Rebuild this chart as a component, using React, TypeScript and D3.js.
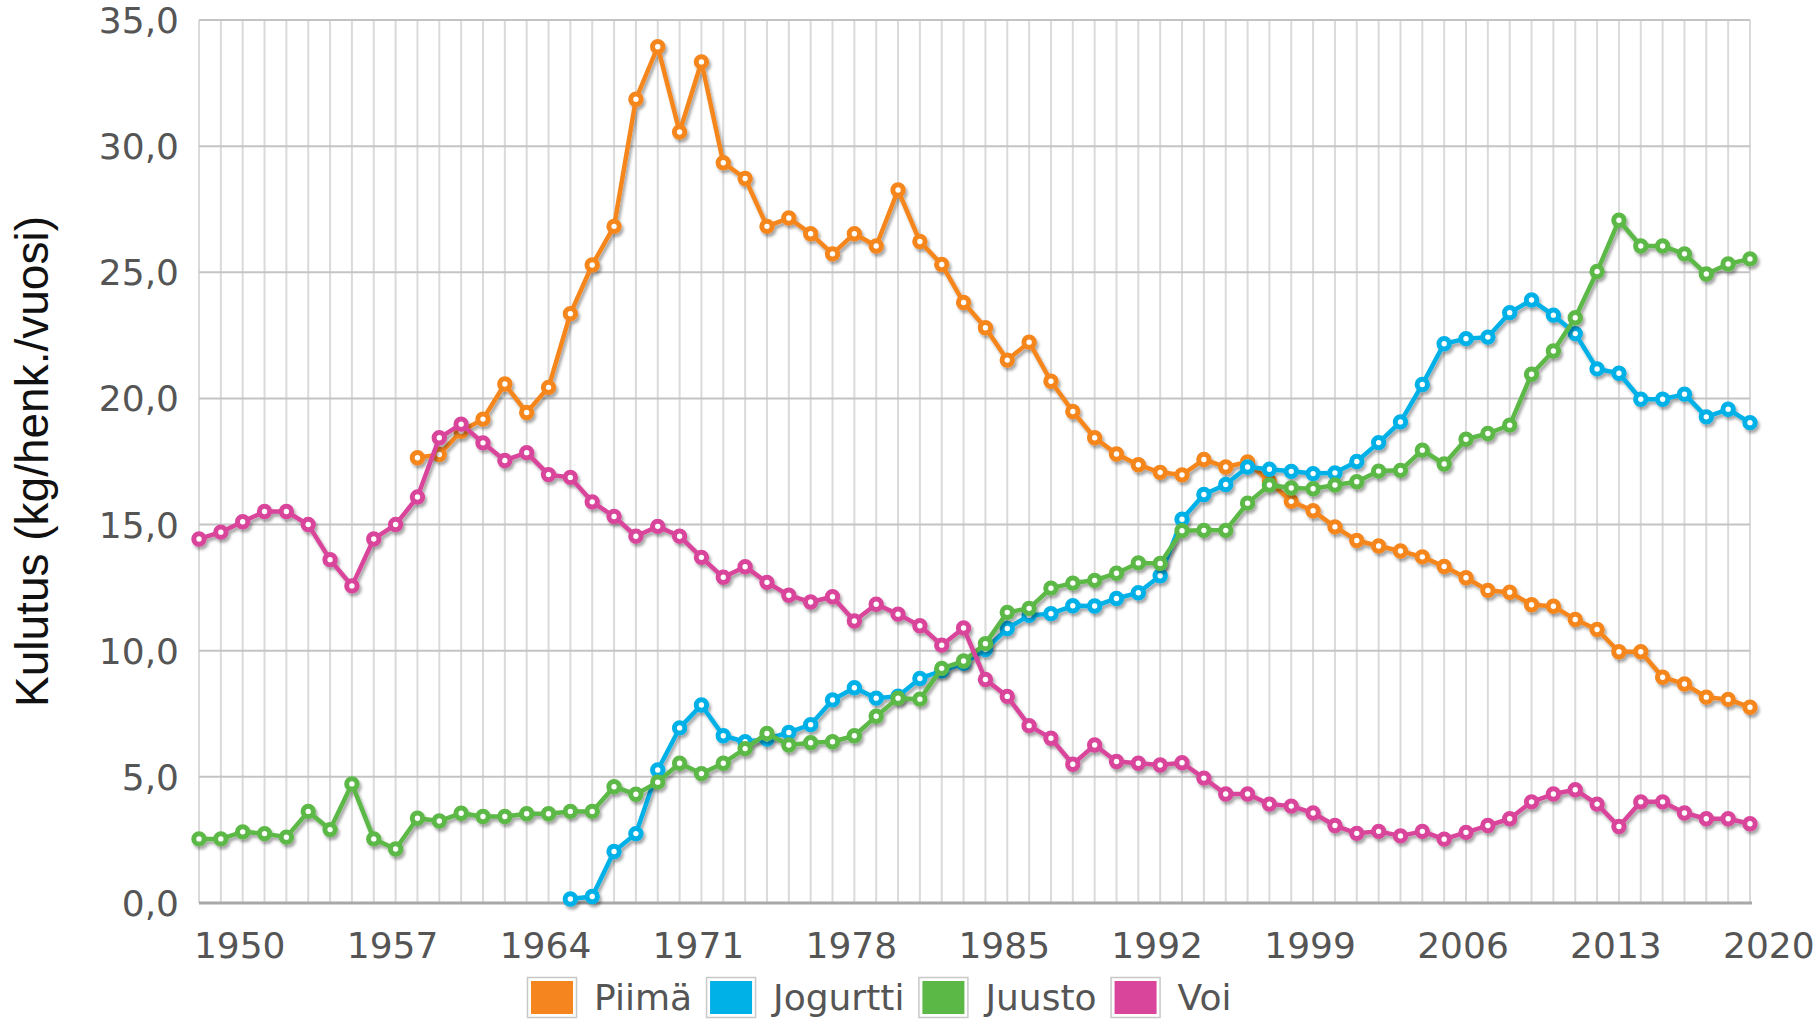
import { useEffect, useRef } from "react"
import * as d3 from "d3"

const years = d3.range(1948, 2020)

// kg / henkilö / vuosi, luettu kuvasta (null = ei tietoa)
const piima = [
  null, null, null, null, null, null, null, null, null, null,
  17.65, 17.78, 18.7, 19.18, 20.57, 19.44, 20.44, 23.36, 25.29, 26.82,
  31.86, 33.94, 30.56, 33.34, 29.34, 28.72, 26.82, 27.15, 26.53, 25.73,
  26.53, 26.04, 28.26, 26.22, 25.31, 23.8, 22.8, 21.52, 22.23, 20.68,
  19.48, 18.44, 17.8, 17.37, 17.07, 16.97, 17.58, 17.28, 17.48, 16.7,
  15.92, 15.55, 14.91, 14.37, 14.15, 13.95, 13.72, 13.34, 12.89, 12.39,
  12.32, 11.82, 11.76, 11.24, 10.84, 9.96, 9.96, 8.95, 8.68, 8.16,
  8.07, 7.76,
]

const jogurtti = [
  null, null, null, null, null, null, null, null, null, null,
  null, null, null, null, null, null, null, 0.16, 0.26, 2.04,
  2.75, 5.27, 6.94, 7.85, 6.63, 6.39, 6.5, 6.76, 7.07, 8.05,
  8.53, 8.12, 8.2, 8.9, 9.2, 9.5, 10.05, 10.88, 11.4, 11.47,
  11.78, 11.77, 12.07, 12.3, 12.97, 15.21, 16.19, 16.59, 17.28, 17.19,
  17.11, 17.02, 17.05, 17.5, 18.25, 19.07, 20.55, 22.17, 22.37, 22.43,
  23.4, 23.9, 23.3, 22.57, 21.17, 21.0, 19.97, 19.97, 20.17, 19.27,
  19.57, 19.04,
]

const juusto = [
  2.54, 2.54, 2.82, 2.75, 2.61, 3.63, 2.91, 4.72, 2.54, 2.14,
  3.36, 3.25, 3.56, 3.43, 3.43, 3.54, 3.54, 3.63, 3.63, 4.61,
  4.31, 4.79, 5.54, 5.13, 5.54, 6.12, 6.72, 6.26, 6.35, 6.39,
  6.63, 7.4, 8.12, 8.08, 9.3, 9.59, 10.28, 11.52, 11.68, 12.48,
  12.68, 12.79, 13.07, 13.48, 13.46, 14.76, 14.77, 14.77, 15.85, 16.57,
  16.45, 16.42, 16.57, 16.7, 17.12, 17.15, 17.95, 17.4, 18.38, 18.61,
  18.94, 20.96, 21.88, 23.2, 25.03, 27.06, 26.04, 26.04, 25.73, 24.93,
  25.33, 25.53,
]

const voi = [
  14.43, 14.7, 15.11, 15.52, 15.52, 15.0, 13.61, 12.57, 14.43, 15.0,
  16.09, 18.44, 18.98, 18.24, 17.54, 17.85, 16.98, 16.87, 15.9, 15.32,
  14.54, 14.93, 14.54, 13.7, 12.91, 13.33, 12.71, 12.2, 11.93, 12.14,
  11.18, 11.84, 11.45, 10.99, 10.22, 10.9, 8.86, 8.19, 7.03, 6.53,
  5.5, 6.26, 5.61, 5.54, 5.47, 5.56, 4.95, 4.32, 4.32, 3.92,
  3.84, 3.57, 3.07, 2.76, 2.84, 2.66, 2.84, 2.53, 2.8, 3.07,
  3.34, 4.01, 4.32, 4.49, 3.92, 3.03, 4.01, 4.01, 3.57, 3.34,
  3.34, 3.14,
]

const seriesNames = ["Piimä", "Jogurtti", "Juusto", "Voi"]
const seriesColors = ["#f5861f", "#00b1e8", "#5cb846", "#d9459b"]
const seriesValues = [piima, jogurtti, juusto, voi]

const yTicks = [0, 5, 10, 15, 20, 25, 30, 35]
const xTickYears = [1950, 1957, 1964, 1971, 1978, 1985, 1992, 1999, 2006, 2013, 2020]
const yTitle = "Kulutus (kg/henk./vuosi)"

const width = 1818
const height = 1019
const margin = { top: 20, right: 68, bottom: 116, left: 199 }

export default function App() {
  const svgRef = useRef(null)

  useEffect(() => {
    const svg = d3.select(svgRef.current)
    svg.selectAll("*").remove()

    const x = d3.scaleLinear().domain([1948, 2019]).range([margin.left, width - margin.right])
    const y = d3.scaleLinear().domain([0, 35]).range([height - margin.bottom, margin.top])

    const defs = svg.append("defs")
    const shadow = defs.append("filter").attr("id", "shadow").attr("x", "-5%").attr("y", "-5%").attr("width", "110%").attr("height", "110%")
    shadow
      .append("feDropShadow")
      .attr("dx", 2)
      .attr("dy", 3)
      .attr("stdDeviation", 1.8)
      .attr("flood-color", "#000")
      .attr("flood-opacity", 0.35)

    svg.append("rect").attr("width", width).attr("height", height).attr("fill", "#ffffff")

    // vertical grid, one line per year
    svg
      .append("g")
      .selectAll("line")
      .data(years)
      .enter()
      .append("line")
      .attr("x1", (d) => x(d))
      .attr("x2", (d) => x(d))
      .attr("y1", y(35))
      .attr("y2", y(0))
      .attr("stroke", "#dadada")
      .attr("stroke-width", 2)

    // horizontal grid
    svg
      .append("g")
      .selectAll("line")
      .data(yTicks.filter((d) => d > 0))
      .enter()
      .append("line")
      .attr("x1", x(1948))
      .attr("x2", x(2019))
      .attr("y1", (d) => y(d))
      .attr("y2", (d) => y(d))
      .attr("stroke", "#c4c4c4")
      .attr("stroke-width", 2)

    // x axis line
    svg
      .append("line")
      .attr("x1", x(1948))
      .attr("x2", x(2019) + 2)
      .attr("y1", y(0))
      .attr("y2", y(0))
      .attr("stroke", "#a8a8a8")
      .attr("stroke-width", 3)

    // y tick labels
    svg
      .append("g")
      .selectAll("text")
      .data(yTicks)
      .enter()
      .append("text")
      .attr("x", margin.left - 20)
      .attr("y", (d) => y(d))
      .attr("dy", "0.36em")
      .attr("text-anchor", "end")
      .attr("font-family", "DejaVu Sans, Verdana, sans-serif")
      .attr("font-size", 36)
      .attr("fill", "#555555")
      .text((d) => d3.format(".1f")(d).replace(".", ","))

    // x tick labels
    svg
      .append("g")
      .selectAll("text")
      .data(xTickYears)
      .enter()
      .append("text")
      .attr("x", (d) => x(d) - 3)
      .attr("y", y(0) + 55)
      .attr("text-anchor", "middle")
      .attr("font-family", "DejaVu Sans, Verdana, sans-serif")
      .attr("font-size", 36)
      .attr("fill", "#555555")
      .text((d) => d)

    // y title
    svg
      .append("text")
      .attr("transform", `translate(48, ${(y(0) + y(35)) / 2}) rotate(-90)`)
      .attr("text-anchor", "middle")
      .attr("font-family", "Liberation Sans, Arial, sans-serif")
      .attr("font-size", 46)
      .attr("fill", "#111111")
      .text(yTitle)

    // series
    seriesValues.forEach((values, i) => {
      const pts = years.map((yr, j) => ({ year: yr, value: values[j] })).filter((p) => p.value !== null)
      const g = svg.append("g").attr("filter", "url(#shadow)")

      const line = d3
        .line()
        .x((d) => x(d.year))
        .y((d) => y(d.value))

      g.append("path")
        .datum(pts)
        .attr("d", line)
        .attr("fill", "none")
        .attr("stroke", seriesColors[i])
        .attr("stroke-width", 4.5)
        .attr("stroke-linejoin", "round")

      g.selectAll("circle")
        .data(pts)
        .enter()
        .append("circle")
        .attr("cx", (d) => x(d.year))
        .attr("cy", (d) => y(d.value))
        .attr("r", 5.2)
        .attr("fill", "#ffffff")
        .attr("stroke", seriesColors[i])
        .attr("stroke-width", 5)
    })

    // legend
    const legend = svg.append("g").attr("transform", "translate(527, 977)")
    let cursor = 0
    seriesNames.forEach((name, i) => {
      const item = legend.append("g").attr("transform", `translate(${cursor}, 0)`)
      item
        .append("rect")
        .attr("x", 0.5)
        .attr("y", 0.5)
        .attr("width", 49)
        .attr("height", 40)
        .attr("fill", "#ffffff")
        .attr("stroke", "#c8c8c8")
        .attr("stroke-width", 1.5)
      item
        .append("rect")
        .attr("x", 4)
        .attr("y", 4)
        .attr("width", 42)
        .attr("height", 33)
        .attr("fill", seriesColors[i])
      const label = item
        .append("text")
        .attr("x", 67)
        .attr("y", 33)
        .attr("font-family", "DejaVu Sans, Verdana, sans-serif")
        .attr("font-size", 36)
        .attr("fill", "#555555")
        .text(name)
      const w = label.node().getComputedTextLength()
      cursor += 67 + w + 14
    })
  }, [])

  return (
    <svg
      ref={svgRef}
      width={width}
      height={height}
      style={{ position: "absolute", left: 0, top: 0, display: "block" }}
    />
  )
}
